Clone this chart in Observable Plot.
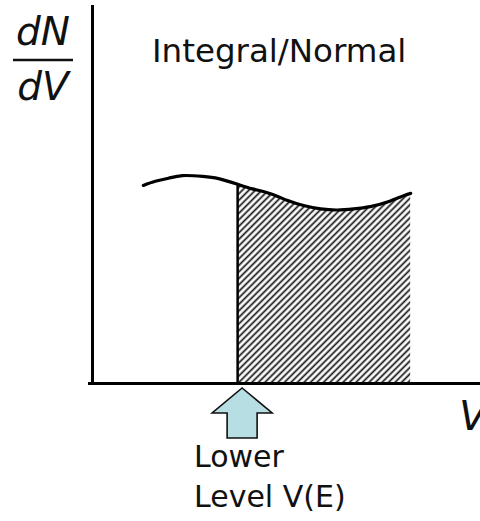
<!DOCTYPE html>
<html><head><meta charset="utf-8">
<script src="https://cdn.jsdelivr.net/npm/d3@7"></script>
<script src="https://cdn.jsdelivr.net/npm/@observablehq/plot@0.6"></script>
<style>
html,body{margin:0;padding:0;background:#fff;}
#chart{position:relative;width:480px;height:521px;overflow:hidden;}
</style></head><body><div id="chart"></div>
<script>
// Pulse-height (V) vs. differential count dN/dV
const voltage = [13.1,16.2,19.6,23.2,28.4,32.5,37.4,41.2,45.9,50.3,54.4,58.8,63.1,67.3,71.6,76.0,80.2,82.0];
const dNdV    = [52.4,53.5,54.3,55.0,54.8,54.2,52.7,51.5,50.2,48.4,47.1,46.2,45.9,46.2,46.8,48.0,49.7,50.3];
const lowerLevel = 37.4;
const titleText = "Integral/Normal";
const yLabelTop = "dN", yLabelBottom = "dV", xLabel = "V";
const markerLines = ["Lower", "Level V(E)"];

const data = voltage.map((v, i) => ({v, n: dNdV[i]}));
const integ = data.filter(d => d.v >= lowerLevel);
const lowerN = dNdV[voltage.indexOf(lowerLevel)];

const plot = Plot.plot({
  width: 480, height: 521,
  marginLeft: 92, marginRight: 0, marginTop: 5, marginBottom: 138,
  x: {domain: [0, 100], axis: null},
  y: {domain: [0, 100], axis: null},
  style: {background: "transparent", overflow: "visible"},
  marks: [
    Plot.areaY(integ, {x: "v", y: "n", curve: "natural", fill: "url(#hatch)"}),
    Plot.ruleX([lowerLevel], {y1: 0, y2: lowerN, stroke: "black", strokeWidth: 2.5}),
    Plot.line(data, {x: "v", y: "n", curve: "natural", stroke: "black", strokeWidth: 3.2}),
    Plot.ruleX([0], {stroke: "black", strokeWidth: 3}),
    Plot.ruleY([0], {stroke: "black", strokeWidth: 3, insetLeft: -4})
  ]
});

const svg = d3.select(plot);
const pat = svg.insert("defs", ":first-child").append("pattern")
  .attr("id", "hatch").attr("patternUnits", "userSpaceOnUse")
  .attr("width", 4.6).attr("height", 4.6)
  .attr("patternTransform", "rotate(45)");
pat.append("line").attr("x1", 2.3).attr("y1", 0).attr("x2", 2.3).attr("y2", 4.6)
  .attr("stroke", "#111").attr("stroke-width", 1.7);

const xs = plot.scale("x"), ys = plot.scale("y");
const font = "'DejaVu Sans', sans-serif";
const txt = (x, y, size, t, opts = {}) => svg.append("text")
  .attr("x", x).attr("y", y).attr("font-family", font).attr("font-size", size)
  .attr("text-anchor", opts.anchor || "start").attr("font-style", opts.italic ? "italic" : "normal")
  .attr("fill", "#111").text(t);

// title
txt(152, 62, 32.5, titleText);

// dN/dV fraction
txt(43, 45, 39, yLabelTop, {anchor: "middle", italic: true});
svg.append("line").attr("x1", 13).attr("x2", 73).attr("y1", 60).attr("y2", 60)
  .attr("stroke", "#111").attr("stroke-width", 2.5);
txt(43, 100, 39, yLabelBottom, {anchor: "middle", italic: true});

// x label
txt(459, 430, 41, xLabel, {italic: true});

// arrow at lower level
const ax = xs.apply(lowerLevel) + 5, ay = ys.apply(0) + 5;
const arrow = [[ax, ay], [ax + 30, ay + 25], [ax + 15, ay + 25], [ax + 15, ay + 50],
               [ax - 15, ay + 50], [ax - 15, ay + 25], [ax - 30, ay + 25]];
svg.append("path").attr("d", "M" + arrow.map(p => p.join(",")).join("L") + "Z")
  .attr("fill", "#b7dee2").attr("stroke", "#111").attr("stroke-width", 1.6);

markerLines.forEach((t, i) => txt(194, 467 + i * 40, 30, t));

document.getElementById("chart").appendChild(plot);
</script></body></html>
